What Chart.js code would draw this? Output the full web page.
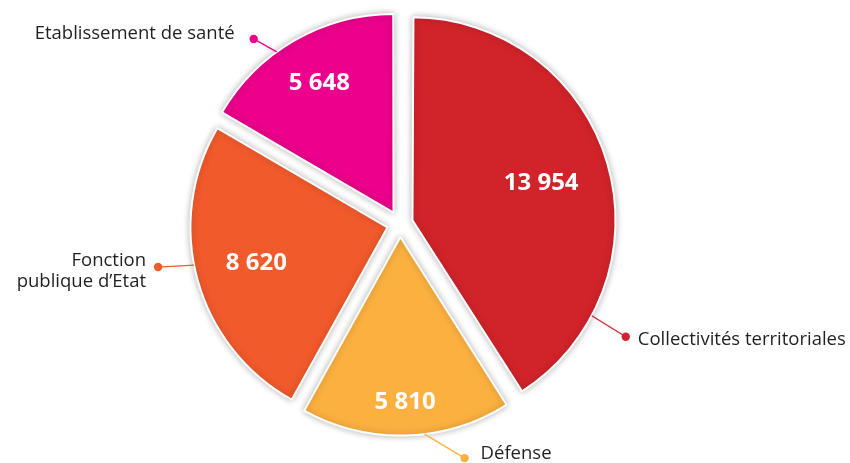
<!DOCTYPE html>
<html>
<head>
<meta charset="utf-8">
<script src="https://cdn.jsdelivr.net/npm/chart.js@4.4.1/dist/chart.umd.min.js"></script>
<style>
  html, body { margin: 0; padding: 0; background: #fff; }
  canvas { display: block; }
</style>
</head>
<body>
<canvas id="effectifs" width="850" height="463"></canvas>
<script>
const categories = ["Collectivités territoriales", "Défense", ["Fonction", "publique d’Etat"], "Etablissement de santé"];
const effectifs = [13954, 5810, 8620, 5648];
const sliceColors = ["#D1232A", "#FBB040", "#F15A2B", "#EC008C"];

function formatFr(v) {
  return String(v).replace(/\B(?=(\d{3})+(?!\d))/g, " ");
}

// value labels + callouts with leader lines
const calloutPlugin = {
  id: "callouts",
  beforeDatasetsDraw(chart) {
    const c = chart.ctx;
    c.save();
    c.shadowColor = "rgba(0,0,0,0.28)";
    c.shadowBlur = 7;
  },
  afterDatasetsDraw(chart) {
    chart.ctx.restore();
  },
  afterDraw(chart, args, opts) {
    const ctx = chart.ctx;
    const meta = chart.getDatasetMeta(0);
    const labels = chart.data.labels;
    meta.data.forEach((arc, i) => {
      const p = arc.getProps(["x", "y", "startAngle", "endAngle", "outerRadius"], true);
      const mid = (p.startAngle + p.endAngle) / 2;
      const shift = (arc.options.offset || 0) / 4;
      const circ = p.endAngle - p.startAngle;
      const cx = p.x + Math.cos(mid) * shift;
      const cy = p.y + Math.sin(mid) * shift;
      const r = p.outerRadius + shift * (1 - Math.sin(Math.min(Math.PI, circ)));

      // value
      const vr = opts.valueRadius[i];
      ctx.save();
      ctx.fillStyle = "#fff";
      ctx.font = "bold 24px 'Open Sans'";
      ctx.textAlign = "center";
      ctx.textBaseline = "middle";
      ctx.fillText(formatFr(chart.data.datasets[0].data[i]), p.x + Math.cos(mid) * vr, p.y + Math.sin(mid) * vr);
      ctx.restore();

      // callout
      const co = opts.callouts[i];
      const a = (co.angle - 90) * Math.PI / 180;
      const ax = cx + Math.cos(a) * r;
      const ay = cy + Math.sin(a) * r;
      const dx = ax + co.dx, dy = ay + co.dy;
      const color = sliceColors[i];
      ctx.save();
      ctx.strokeStyle = color;
      ctx.lineWidth = 1.3;
      ctx.beginPath();
      ctx.moveTo(ax, ay);
      ctx.lineTo(dx, dy);
      ctx.stroke();
      ctx.fillStyle = color;
      ctx.beginPath();
      ctx.arc(dx, dy, 4.2, 0, Math.PI * 2);
      ctx.fill();

      ctx.fillStyle = "#231F20";
      ctx.font = "18.5px 'Open Sans'";
      ctx.textAlign = co.align;
      ctx.textBaseline = "middle";
      const lines = Array.isArray(labels[i]) ? labels[i] : [labels[i]];
      lines.forEach((t, k) => {
        ctx.fillText(t, dx + co.tx, dy + co.ty + k * 21);
      });
      ctx.restore();
    });
  }
};

const ctx = document.getElementById("effectifs").getContext("2d");
const chart = new Chart(ctx, {
  type: "pie",
  data: {
    labels: categories,
    datasets: [
      {
        data: effectifs,
        backgroundColor: sliceColors,
        borderColor: "#ffffff",
        borderWidth: 2,
        offset: 52,
      },
    ],
  },
  options: {
    responsive: false,
    animation: false,
    radius: 197,
    layout: { padding: { left: 0, right: 50, top: 0, bottom: 15 } },
    plugins: {
      legend: { display: false },
      tooltip: { enabled: false },
      callouts: {
        valueRadius: [147, 178, 149, 162],
        callouts: [
          { angle: 118, dx: 34, dy: 21, align: "left", tx: 12, ty: 3 },
          { angle: 173, dx: 40, dy: 24, align: "left", tx: 16, ty: -4 },
          { angle: 259, dx: -36, dy: 2, align: "right", tx: -12, ty: -6 },
          { angle: 324, dx: -23, dy: -13, align: "right", tx: -19, ty: -5 },
        ],
      },
    },
  },
  plugins: [calloutPlugin],
});
</script>
</body>
</html>
